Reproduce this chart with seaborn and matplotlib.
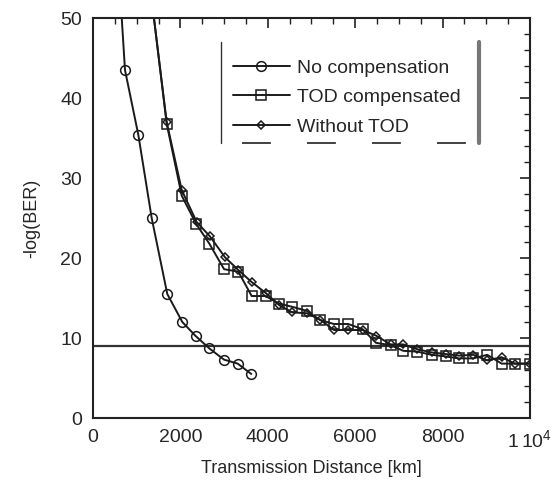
import matplotlib
matplotlib.use("Agg")
import matplotlib.pyplot as plt
from matplotlib.ticker import MultipleLocator, FixedLocator, FixedFormatter
import seaborn as sns
import pandas as pd

# BER vs. distance for the three dispersion cases
dist_nocomp = [600, 732, 1037, 1343, 1700, 2044, 2349, 2662, 2998, 3310, 3623]
ber_nocomp = [55.0, 43.5, 35.4, 25.0, 15.5, 12.0, 10.25, 8.7, 7.3, 6.8, 5.5]

dist_tod = [1350, 1686, 2030, 2357, 2662, 3000, 3325, 3631, 3950, 4256, 4561, 4890,
            5195, 5515, 5843, 6171, 6476, 6812, 7101, 7421, 7750, 8069, 8375, 8703,
            9023, 9352, 9657, 10000]
ber_tod = [52.0, 36.8, 27.8, 24.3, 21.8, 18.6, 18.3, 15.25, 15.25, 14.3, 13.9, 13.4,
           12.25, 11.75, 11.75, 11.1, 9.4, 9.1, 8.4, 8.3, 7.9, 7.7, 7.45, 7.45,
           7.9, 6.8, 6.8, 6.8]

dist_notod = [1350, 1686, 2030, 2373, 2677, 3020, 3325, 3631, 3959, 4263, 4561, 4890,
              5195, 5515, 5843, 6171, 6476, 6812, 7101, 7421, 7750, 8069, 8375, 8703,
              9023, 9352, 9657, 10000]
ber_notod = [52.0, 37.0, 28.5, 24.5, 22.7, 20.1, 18.5, 17.0, 15.6, 14.1, 13.2, 13.1,
             12.3, 11.0, 11.0, 11.0, 10.3, 9.2, 9.2, 8.6, 8.2, 8.0, 7.8, 7.9,
             7.2, 7.6, 6.8, 6.8]

ber_threshold = 9.0

x_ticks = [0, 2000, 4000, 6000, 8000, 10000]
x_tick_labels = ["0", "2000", "4000", "6000", "8000", "1$\\,$10$^4$"]
y_ticks = [0, 10, 20, 30, 40, 50]

sns.set_style("white")
plt.rcParams["font.family"] = ["Liberation Sans", "DejaVu Sans"]
plt.rcParams["mathtext.fontset"] = "custom"
plt.rcParams["mathtext.rm"] = "Liberation Sans"

fig = plt.figure(figsize=(5.52, 4.86), dpi=100)
ax = fig.add_axes([0.1685, 0.1399, 0.7915, 0.823])

series = [
    (dist_nocomp, ber_nocomp, "No compensation", "o", 7),
    (dist_tod, ber_tod, "TOD compensated", "s", 7),
    (dist_notod, ber_notod, "Without TOD", "D", 4.5),
]
for xs, ys, name, mk, ms in series:
    df = pd.DataFrame({"dist": xs, "ber": ys})
    sns.lineplot(data=df, x="dist", y="ber", ax=ax, sort=False, estimator=None,
                 color="#1a1a1a", lw=1.4, marker=mk, markersize=ms,
                 markerfacecolor="none", markeredgecolor="#1a1a1a",
                 markeredgewidth=1.1, label=name)

ax.axhline(ber_threshold, color="#333333", lw=1.6, zorder=1)

ax.set_xlim(0, 10000)
ax.set_ylim(0, 50)
ax.xaxis.set_major_locator(FixedLocator(x_ticks))
ax.xaxis.set_major_formatter(FixedFormatter(x_tick_labels))
ax.xaxis.set_minor_locator(MultipleLocator(500))
ax.yaxis.set_major_locator(FixedLocator(y_ticks))
ax.yaxis.set_minor_locator(MultipleLocator(2))
ax.tick_params(which="both", direction="in", top=True, right=True,
               color="#222222", labelsize=14, pad=8)
ax.tick_params(which="major", length=7, width=1.2)
ax.tick_params(which="minor", length=4, width=1.0)
for sp in ax.spines.values():
    sp.set_color("#222222")
    sp.set_linewidth(1.5)

ax.set_xlabel("Transmission Distance [km]", fontsize=13, labelpad=6)
ax.set_ylabel("-log(BER)", fontsize=13, labelpad=14)

leg = ax.legend(loc="upper left", bbox_to_anchor=(0.302, 0.917), frameon=False,
                fontsize=14, handlelength=2.94, handletextpad=0.36,
                labelspacing=0.62, borderaxespad=0.0, borderpad=0.4)

# open legend box: thin left side, heavy right side, dashed bottom
ax.plot([0.294, 0.294], [0.688, 0.94], transform=ax.transAxes,
        color="#333333", lw=1.0, clip_on=False)
ax.plot([0.884, 0.884], [0.688, 0.94], transform=ax.transAxes,
        color="#777777", lw=3.0, clip_on=False)
ax.plot([0.34, 0.884], [0.688, 0.688], transform=ax.transAxes,
        color="#333333", lw=1.3, ls=(0, (16, 20)), clip_on=False)

fig.savefig("out.png", dpi=100, facecolor="white")
